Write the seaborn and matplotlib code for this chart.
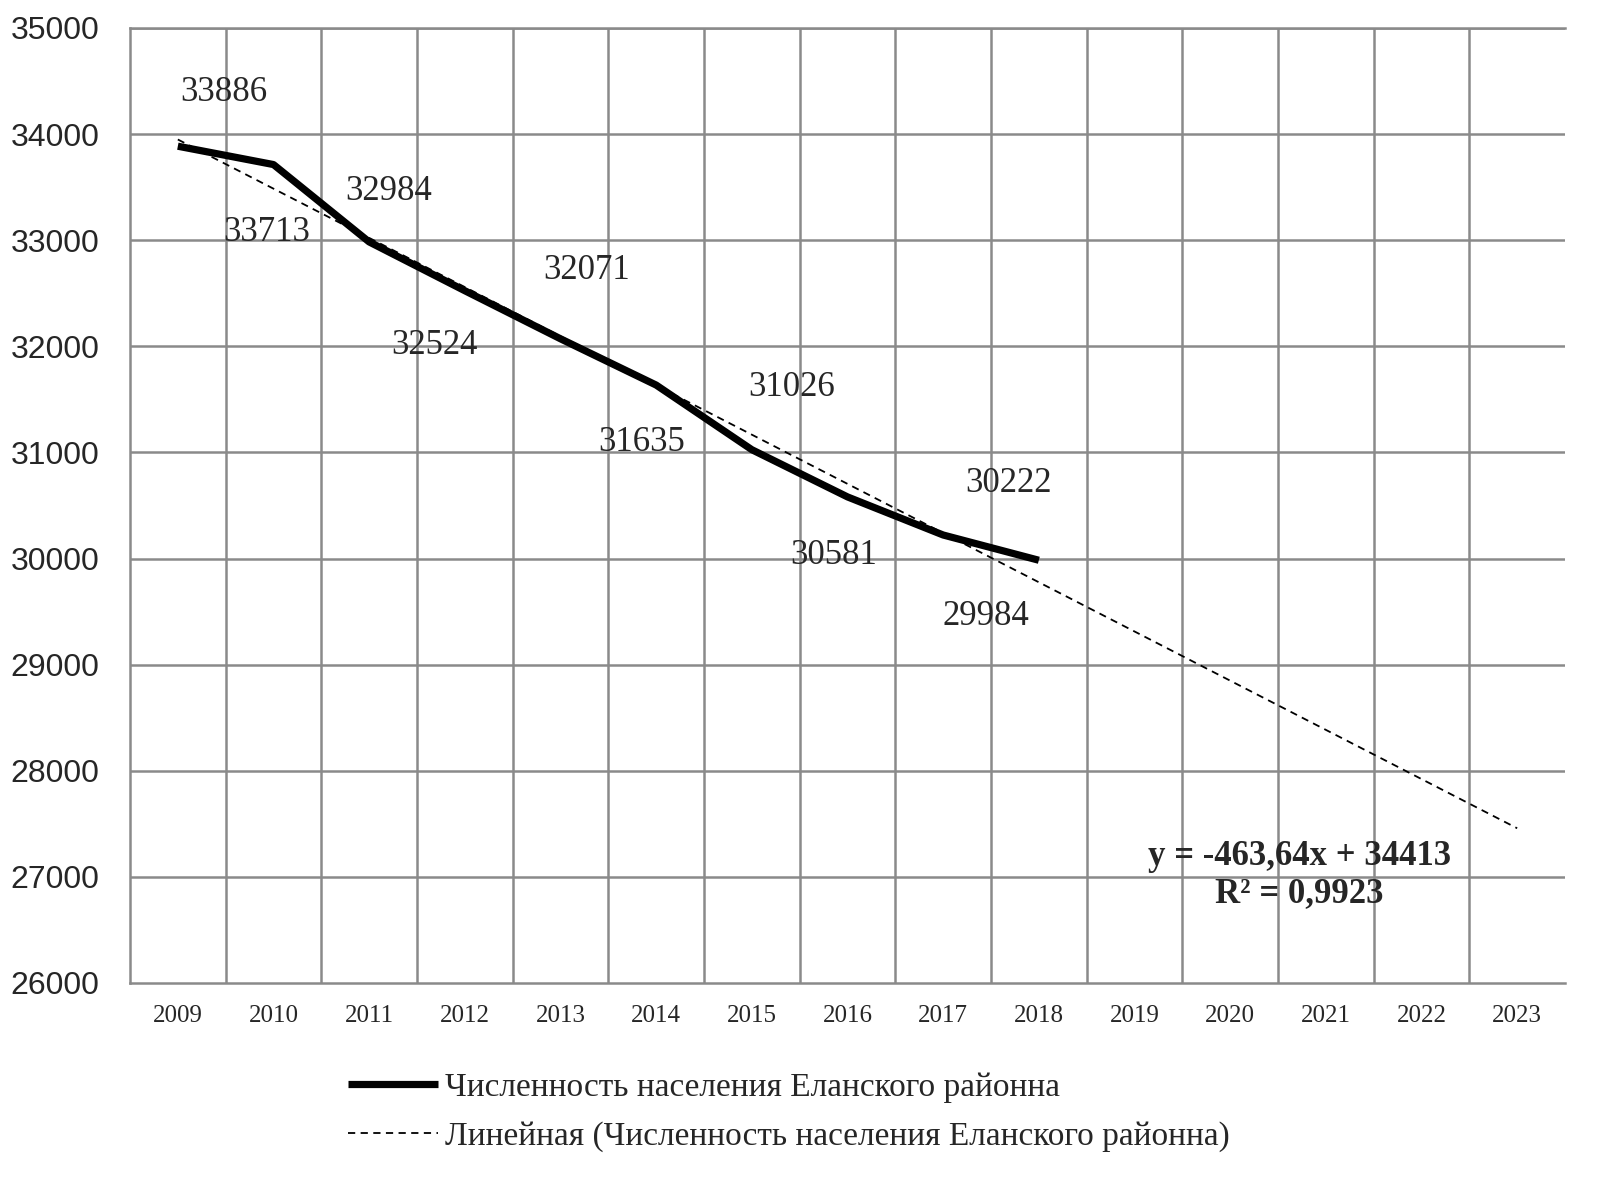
import numpy as np
import pandas as pd
import seaborn as sns
import matplotlib.pyplot as plt

years = [str(y) for y in range(2009, 2024)]
pop_years = years[:10]
population = [33886, 33713, 32984, 32524, 32071, 31635, 31026, 30581, 30222, 29984]
trend_slope = -463.64
trend_icpt = 34413
r2 = 0.9923
series_name = "Численность населения Еланского районна"
trend_name = "Линейная (Численность населения Еланского районна)"

# label offsets in pixels (Excel put them in odd places)
label_offsets = [(46, 54), (-7, -68), (19, 50), (-30, -55), (26, 68),
                 (-15, -57), (40, 62), (-14, -59), (65, 51), (-53, -56)]

sns.set_style("white")
plt.rcParams['font.family'] = ['Liberation Serif', 'DejaVu Serif']

fig = plt.figure(figsize=(16.05, 11.86), dpi=100)
ax = fig.add_axes([130 / 1605, 1 - 983 / 1186, 1435 / 1605, 955 / 1186])

xi = np.arange(len(years))
df = pd.DataFrame({"x": xi[:len(population)], "y": population})
trend = pd.DataFrame({"x": xi, "y": trend_slope * (xi + 1) + trend_icpt})

sns.lineplot(data=df, x="x", y="y", ax=ax, color="black", lw=5.2,
             label=series_name, solid_capstyle="butt")
sns.lineplot(data=trend, x="x", y="y", ax=ax, color="black", lw=1.3,
             label=trend_name)
ax.lines[1].set_linestyle((0, (4, 3)))

ax.set_xlim(-0.5, len(years) - 0.5)
ax.set_ylim(26000, 35000)
ax.set_yticks(range(26000, 35001, 1000))
ax.set_xticks(xi)
ax.set_xticklabels(years, fontsize=18)
ax.set_yticklabels([str(v) for v in range(26000, 35001, 1000)],
                   fontsize=23, family='Liberation Sans')
ax.tick_params(axis='y', length=0, pad=22)
ax.tick_params(axis='x', length=0, pad=16)
ax.set_xlabel("")
ax.set_ylabel("")

gc = "#8a8a8a"
for v in range(27000, 35001, 1000):
    ax.axhline(v, color=gc, lw=1.8, zorder=0)
for b in np.arange(0.5, len(years) - 0.5, 1):
    ax.axvline(b, color=gc, lw=1.8, zorder=0)
for s in ax.spines.values():
    s.set_color(gc)
    s.set_linewidth(1.8)
ax.spines['right'].set_visible(False)

for i, (v, off) in enumerate(zip(population, label_offsets)):
    ax.annotate(str(v), xy=(i, v), xytext=off, textcoords='offset pixels',
                ha='center', va='center', fontsize=25)

ax.text(0.815, 0.113, f"y = {trend_slope:.2f}x + {trend_icpt}\nR² = {r2}".replace('.', ','),
        transform=ax.transAxes, ha='center', va='center', fontsize=25,
        fontweight='bold', linespacing=1.15)

ax.get_legend().remove()
h, l = ax.get_legend_handles_labels()
fig.legend(h, l, loc='center left', bbox_to_anchor=(348 / 1605, 1 - 1112 / 1186),
           frameon=False, prop={'family': 'Liberation Serif', 'size': 24},
           handlelength=2.7, handletextpad=0.2,
           labelspacing=0.55, borderpad=0, borderaxespad=0)

fig.savefig("out.png", dpi=100)
